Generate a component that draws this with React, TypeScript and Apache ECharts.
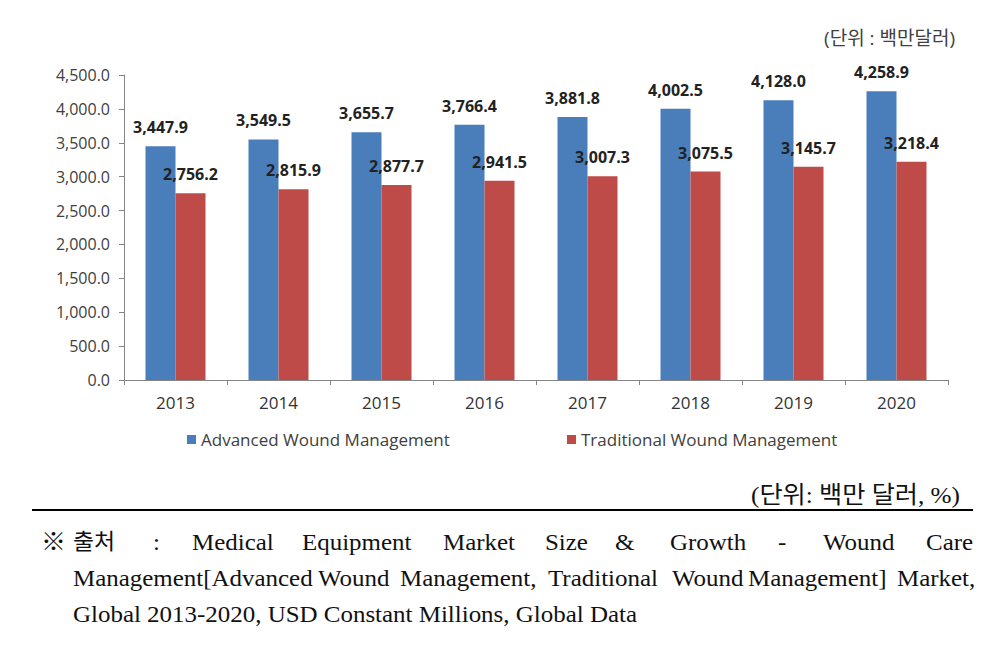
import React, { useEffect, useRef } from "react";
import * as echarts from "echarts";

const years = ["2013", "2014", "2015", "2016", "2017", "2018", "2019", "2020"];
const advanced = [3447.9, 3549.5, 3655.7, 3766.4, 3881.8, 4002.5, 4128.0, 4258.9];
const traditional = [2756.2, 2815.9, 2877.7, 2941.5, 3007.3, 3075.5, 3145.7, 3218.4];
const seriesNames = ["Advanced Wound Management", "Traditional Wound Management"];
const yMax = 4500;
const yInterval = 500;

const unitTop = "(단위 : 백만달러)";
const unitBottom = "(단위: 백만 달러, %)";
const sourceLine1 = ["※", "출처", ":", "Medical", "Equipment", "Market", "Size", "&", "Growth", "-", "Wound", "Care"];
const sourceLine1X = [41, 73, 153, 192, 302, 443, 545, 615, 670, 778, 823, 926];
const sourceLine2 = ["Management[Advanced", "Wound", "Management,", "Traditional", "Wound", "Management]", "Market,"];
const sourceLine2X = [73, 318, 400, 548, 672, 748, 897];
const sourceLine3 = "Global 2013-2020, USD Constant Millions, Global Data";

const fmt = (v: number) =>
  v.toLocaleString("en-US", { minimumFractionDigits: 1, maximumFractionDigits: 1 });

const sansFont = "'Open Sans', 'Noto Sans CJK KR', sans-serif";
const serifFont = "'Liberation Serif', 'Noto Sans CJK KR', serif";

export default function App() {
  const ref = useRef<HTMLDivElement>(null);
  useEffect(() => {
    if (!ref.current) return;
    const chart = echarts.init(ref.current, undefined, { renderer: "svg" });
    const labelStyle = {
      show: true,
      position: "top" as const,
      distance: 11,
      fontFamily: sansFont,
      fontSize: 16,
      fontWeight: "bold" as const,
      color: "#222222",
      formatter: (p: any) => fmt(p.value),
    };
    const serifStyle = (text: string, extra: any = {}) => ({
      text,
      fontFamily: serifFont,
      fontSize: 24,
      fill: "#111111",
      textVerticalAlign: "middle",
      ...extra,
    });
    const wordText = (words: string[], xs: number[], y: number) =>
      words.map((w, i) => ({
        type: "text",
        x: xs[i],
        y,
        scaleX: 1.04,
        style: serifStyle(w, /[가-힣]/.test(w) ? { fontSize: 22 } : {}),
      }));
    const legendText = { fontFamily: sansFont, fontSize: 17, color: "#404040" };
    chart.setOption({
      animation: false,
      backgroundColor: "#ffffff",
      grid: { left: 124, right: 60, top: 75, bottom: 267, containLabel: false },
      legend: [
        {
          data: [seriesNames[0]],
          left: 182,
          top: 426,
          icon: "rect",
          itemWidth: 9,
          itemHeight: 9,
          textStyle: legendText,
        },
        {
          data: [seriesNames[1]],
          left: 562,
          top: 426,
          icon: "rect",
          itemWidth: 9,
          itemHeight: 9,
          textStyle: legendText,
        },
      ],
      xAxis: {
        type: "category",
        data: years,
        axisLine: { lineStyle: { color: "#868686", width: 1 } },
        axisTick: { show: true, length: 5, lineStyle: { color: "#868686" } },
        axisLabel: { fontFamily: sansFont, fontSize: 17, color: "#333333", margin: 14 },
      },
      yAxis: {
        type: "value",
        min: 0,
        max: yMax,
        interval: yInterval,
        axisLine: { show: true, lineStyle: { color: "#868686", width: 1 } },
        axisTick: { show: true, length: 5, lineStyle: { color: "#868686" } },
        splitLine: { show: false },
        axisLabel: {
          fontFamily: sansFont,
          fontSize: 16,
          color: "#404040",
          margin: 14,
          formatter: (v: number) => fmt(v),
        },
      },
      series: [
        {
          name: seriesNames[0],
          type: "bar",
          data: advanced,
          barWidth: 30,
          barGap: "0%",
          itemStyle: { color: "#4A7EBB" },
          label: labelStyle,
        },
        {
          name: seriesNames[1],
          type: "bar",
          data: traditional,
          barWidth: 30,
          barGap: "0%",
          itemStyle: { color: "#BE4B48" },
          label: labelStyle,
        },
      ],
      graphic: [
        {
          type: "text",
          x: 955,
          y: 38,
          style: {
            text: unitTop,
            fontFamily: sansFont,
            fontSize: 19,
            fill: "#404040",
            textAlign: "right",
            textVerticalAlign: "middle",
          },
        },
        {
          type: "text",
          x: 960,
          y: 495,
          scaleX: 1.05,
          style: serifStyle(unitBottom, { textAlign: "right", fontSize: 24 }),
        },
        {
          type: "line",
          shape: { x1: 32, y1: 510, x2: 973, y2: 510 },
          style: { stroke: "#000000", lineWidth: 2 },
        },
        ...wordText(sourceLine1, sourceLine1X, 542),
        ...wordText(sourceLine2, sourceLine2X, 578),
        {
          type: "text",
          x: 73,
          y: 614,
          scaleX: 1.04,
          style: serifStyle(sourceLine3),
        },
      ],
    });
    return () => chart.dispose();
  }, []);
  return (
    <div
      ref={ref}
      style={{ position: "fixed", left: 0, top: 0, width: 1008, height: 647, background: "#fff" }}
    />
  );
}
